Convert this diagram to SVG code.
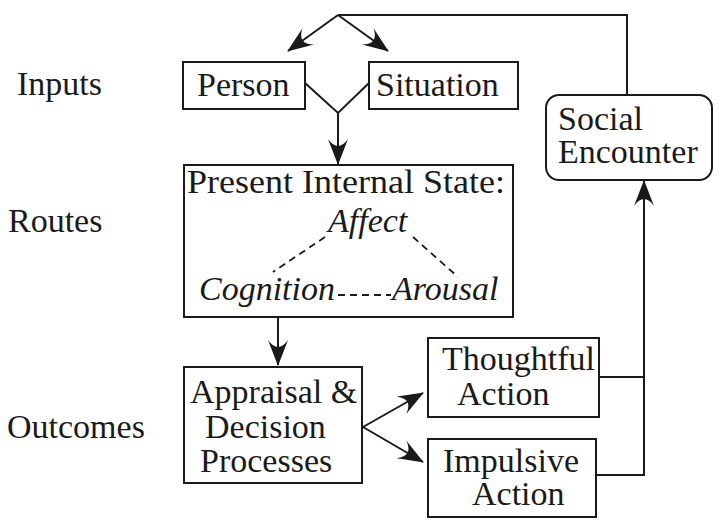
<svg xmlns="http://www.w3.org/2000/svg" width="719" height="526" viewBox="0 0 719 526">
<style>
text{font-size:34px;fill:#1a1a1a;font-family:"Liberation Serif","Times New Roman",serif}
.it{font-style:italic}
.box{fill:#fff;stroke:#1a1a1a;stroke-width:2}
.ln{fill:none;stroke:#1a1a1a;stroke-width:2}
.arr{marker-end:url(#ah)}
.dash{fill:none;stroke:#1a1a1a;stroke-width:1.8;stroke-dasharray:7,5}
</style>
<defs>
<marker id="ah" markerUnits="userSpaceOnUse" viewBox="0 0 26 20" refX="25" refY="10" markerWidth="26" markerHeight="20" orient="auto">
<path d="M26,10 L0,0 Q7,5 7,10 Q7,15 0,20 Z" fill="#1a1a1a"/>
</marker>
</defs>
<rect width="719" height="526" fill="#fff"/>
<g id="labels">
<text x="17" y="95">Inputs</text>
<text x="8" y="232">Routes</text>
<text x="7" y="438">Outcomes</text>
</g>
<g id="connectors">
<polyline class="ln" points="627,95 627,15 338,15"/>
<line class="ln arr" x1="338" y1="15" x2="288" y2="51"/>
<line class="ln arr" x1="338" y1="15" x2="388" y2="51"/>
<polyline class="ln" points="305,83 338,113 369,83"/>
<line class="ln arr" x1="338" y1="113" x2="338" y2="164"/>
<line class="ln arr" x1="278" y1="317" x2="278" y2="365"/>
<line class="ln arr" x1="363" y1="427" x2="423" y2="393"/>
<line class="ln arr" x1="363" y1="427" x2="423" y2="462"/>
<polyline class="ln" points="599,377 644,377"/>
<polyline class="ln arr" points="596,475 644,475 644,181"/>
</g>
<g id="person">
<rect class="box" x="183" y="62" width="122" height="47"/>
<text x="197" y="96">Person</text>
</g>
<g id="situation">
<rect class="box" x="369" y="62" width="149" height="47"/>
<text x="376" y="96">Situation</text>
</g>
<g id="social-encounter">
<rect class="box" x="546" y="95" width="166" height="85" rx="13"/>
<text x="558" y="130">Social</text>
<text x="558" y="163">Encounter</text>
</g>
<g id="internal-state">
<rect class="box" x="184" y="165" width="329" height="152"/>
<text x="187" y="193" textLength="318" lengthAdjust="spacingAndGlyphs">Present Internal State:</text>
<text class="it" x="328" y="232">Affect</text>
<text class="it" x="199" y="300">Cognition</text>
<text class="it" x="392" y="300">Arousal</text>
<line class="dash" x1="325" y1="237" x2="273" y2="272"/>
<line class="dash" x1="413" y1="237" x2="458" y2="277"/>
<line class="dash" x1="338" y1="295" x2="391" y2="295"/>
</g>
<g id="appraisal">
<rect class="box" x="184" y="367" width="178" height="116"/>
<text x="190" y="403">Appraisal &amp;</text>
<text x="205" y="438">Decision</text>
<text x="200" y="472">Processes</text>
</g>
<g id="thoughtful-action">
<rect class="box" x="428" y="338" width="171" height="79"/>
<text x="442" y="370">Thoughtful</text>
<text x="457" y="405">Action</text>
</g>
<g id="impulsive-action">
<rect class="box" x="428" y="439" width="168" height="78"/>
<text x="443" y="472">Impulsive</text>
<text x="472" y="505">Action</text>
</g>
</svg>
